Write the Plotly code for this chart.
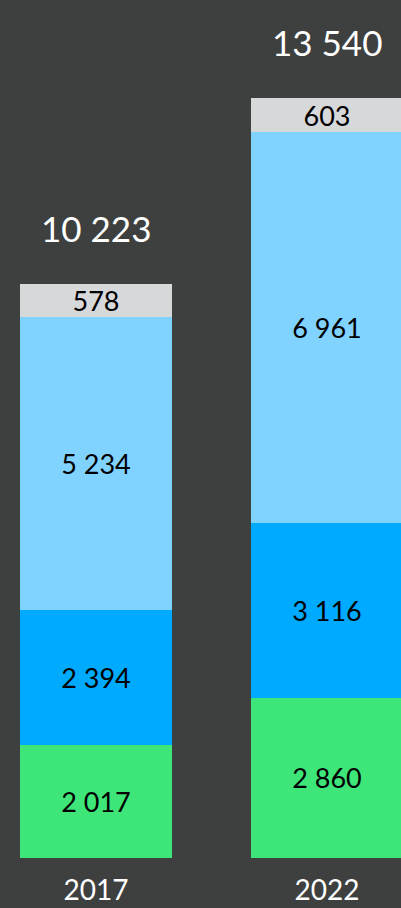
"""Stacked bars, 2017 vs 2022, with totals above each stack."""

import plotly.graph_objects as go

years = ["2017", "2022"]
green_vals = [2017, 2860]
blue_vals = [2394, 3116]
light_vals = [5234, 6961]
grey_vals = [578, 603]
totals = [10223, 13540]

x_pos = [0, 1]
segments = [
    (green_vals, "#3ee67a"),
    (blue_vals, "#00aaff"),
    (light_vals, "#80d3fe"),
    (grey_vals, "#d7d8da"),
]

fig = go.Figure()
for vals, color in segments:
    fig.add_trace(go.Bar(
        x=x_pos, y=vals, width=0.658,
        marker=dict(color=color, line=dict(width=0)),
        texttemplate="%{y:,.0f}", textposition="inside",
        insidetextanchor="middle", textangle=0,
        textfont=dict(color="black", size=27),
        hoverinfo="skip",
    ))

for x, t in zip(x_pos, totals):
    fig.add_annotation(
        x=x, y=t, text=f"{t:,}".replace(",", " "),
        showarrow=False, yanchor="middle", yshift=56,
        font=dict(color="white", size=35),
    )

fig.update_layout(
    barmode="stack",
    width=401, height=908,
    margin=dict(l=0, r=0, t=0, b=50),
    paper_bgcolor="#3e4040",
    plot_bgcolor="rgba(0,0,0,0)",
    showlegend=False,
    separators=", ",
    uniformtext=dict(minsize=27, mode="show"),
    font=dict(family="Source Sans Pro, Lato, sans-serif", color="white"),
)
fig.update_xaxes(
    range=[-0.4156, 1.3203], tickvals=x_pos, ticktext=years,
    showgrid=False, zeroline=False, showline=False, automargin=False,
    tickfont=dict(size=28, color="white"), ticklabelstandoff=13,
)
fig.update_yaxes(range=[0, 15290], visible=False)

# drop the default page margin so the figure fills the window
fig.write_html("out.html", config={"displayModeBar": False},
               post_script="document.body.style.margin='0';")
